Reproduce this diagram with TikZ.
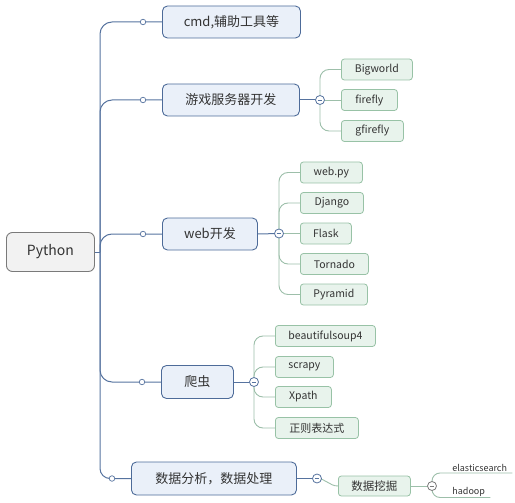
\documentclass[tikz,border=0pt]{standalone}
\usepackage{fontspec}
\setmainfont{Noto Sans CJK SC}
\definecolor{trunk}{HTML}{56739F}
\definecolor{blfill}{HTML}{EAF0F9}
\definecolor{blborder}{HTML}{4D6B99}
\definecolor{grline}{HTML}{9DBFAA}
\definecolor{grborder}{HTML}{98C2A6}
\definecolor{grfill}{HTML}{E8F3EC}
\definecolor{pyfill}{HTML}{F2F2F2}
\definecolor{pyborder}{HTML}{7A7A7A}
\definecolor{txt}{HTML}{333333}
\tikzset{
  rootbox/.style={draw=pyborder, fill=pyfill, line width=0.9pt, rounded corners=6pt, anchor=west, inner sep=0pt, text=txt, font=\fontsize{14}{16}\selectfont},
  topbox/.style={draw=blborder, fill=blfill, line width=0.9pt, rounded corners=5pt, anchor=west, inner sep=0pt, text=txt, font=\fontsize{13}{15}\selectfont},
  subbox/.style={draw=grborder, fill=grfill, line width=0.8pt, rounded corners=3pt, anchor=west, inner sep=0pt, minimum height=21pt, text=txt, font=\fontsize{10.5}{12}\selectfont},
  leaf/.style={inner xsep=0pt, inner ysep=0.8pt, text=txt, font=\fontsize{9}{11}\selectfont},
  trunkline/.style={draw=trunk, line width=1pt, rounded corners=12pt},
  greenline/.style={draw=grline, line width=0.9pt, rounded corners=9pt},
  dot/.style={circle, draw=trunk, fill=white, line width=0.7pt, minimum size=5.5pt, inner sep=0pt},
  minusdot/.style={circle, draw=#1, fill=white, line width=0.8pt, minimum size=9pt, inner sep=0pt,
    path picture={\draw[#1, line width=0.8pt] ([xshift=-2.3pt]path picture bounding box.center) -- ([xshift=2.3pt]path picture bounding box.center);}},
}
\begin{document}
\begin{tikzpicture}[x=1pt,y=-1pt]
\useasboundingbox (0,0) rectangle (515,503);
% nodes
\node[rootbox, minimum width=88pt, minimum height=39pt] (py) at (6,252) {Python};
\coordinate (hub) at (100,252);

\node[topbox, minimum width=138pt, minimum height=32pt] (n1) at (162,22) {cmd,辅助工具等};
\node[topbox, minimum width=137pt, minimum height=32pt] (n2) at (162,100) {游戏服务器开发};
\node[topbox, minimum width=95pt, minimum height=32pt] (n3) at (162,234) {web开发};
\node[topbox, minimum width=72pt, minimum height=33pt] (n4) at (161,382) {爬虫};
\node[topbox, minimum width=165pt, minimum height=33pt] (n5) at (131,478.5) {数据分析，数据处理};

\node[subbox, minimum width=71pt] (bw) at (341,69.5) {Bigworld};
\node[subbox, minimum width=56pt] (ff) at (341,100) {firefly};
\node[subbox, minimum width=62pt] (gf) at (341,131) {gfirefly};

\node[subbox, minimum width=62pt] (wp) at (300,172.5) {web.py};
\node[subbox, minimum width=63pt] (dj) at (300,203) {Django};
\node[subbox, minimum width=51pt] (fl) at (300,233.5) {Flask};
\node[subbox, minimum width=68pt] (tn) at (300,264) {Tornado};
\node[subbox, minimum width=67pt] (pr) at (300,294.5) {Pyramid};

\node[subbox, minimum width=100pt] (bs) at (275,336) {beautifulsoup4};
\node[subbox, minimum width=58pt] (sc) at (275,367) {scrapy};
\node[subbox, minimum width=56pt] (xp) at (275,397) {Xpath};
\node[subbox, minimum width=83pt, font=\fontsize{11}{13}\selectfont] (re) at (275,428) {正则表达式};

\node[subbox, minimum width=72pt, minimum height=20pt, font=\fontsize{11.5}{13}\selectfont] (dm) at (338,486) {数据挖掘};

\node[leaf, anchor=south west, minimum width=65pt] (es) at (447,473) {elasticsearch};
\node[leaf, anchor=south west, minimum width=43pt] (hd) at (447,497.5) {hadoop};

% connector centres
\coordinate (c2) at (320,100);
\coordinate (c3) at (279,233.5);
\coordinate (c4) at (254,382);
\coordinate (c5) at (317,478.5);
\coordinate (c6) at (432,486);

% trunk
\draw[trunkline] (py.east) -- (hub);
\draw[trunkline] (hub) |- (n1.west);
\draw[trunkline] (hub) |- (n2.west);
\draw[trunkline] (hub) |- (n3.west);
\draw[trunkline] (hub) |- (n4.west);
\draw[trunkline, rounded corners=10pt] (hub) |- (n5.west);

% level 2 connectors
\draw[trunkline] (n2.east) -- (c2);
\draw[greenline] (c2) |- (bw.west);
\draw[greenline] (c2) -- (ff.west);
\draw[greenline] (c2) |- (gf.west);

\draw[trunkline] (n3.east) -- (c3);
\draw[greenline] (c3) |- (wp.west);
\draw[greenline] (c3) |- (dj.west);
\draw[greenline] (c3) -- (fl.west);
\draw[greenline] (c3) |- (tn.west);
\draw[greenline] (c3) |- (pr.west);

\draw[trunkline] (n4.east) -- (c4);
\draw[greenline] (c4) |- (bs.west);
\draw[greenline] (c4) |- (sc.west);
\draw[greenline] (c4) |- (xp.west);
\draw[greenline] (c4) |- (re.west);

\draw[trunkline] (n5.east) -- (c5);
\draw[greenline] (c5) to[out=0, in=180] (dm.west);

\draw[greenline] (dm.east) -- (c6);
\draw[greenline, rounded corners=8pt] (c6) |- (es.south west) -- (es.south east);
\draw[greenline, rounded corners=8pt] (c6) |- (hd.south west) -- (hd.south east);

% small dots and minus circles
\node[dot] (d1) at (143,22) {};
\node[dot] (d2) at (143,100) {};
\node[dot] (d3) at (143,234) {};
\node[dot] (d4) at (142,382) {};
\node[dot] (d5) at (112,478.5) {};

\node[minusdot=trunk] (m2) at (c2) {};
\node[minusdot=trunk] (m3) at (c3) {};
\node[minusdot=trunk] (m4) at (c4) {};
\node[minusdot=trunk] (m5) at (c5) {};
\node[minusdot=pyborder] (m6) at (c6) {};
\end{tikzpicture}
\end{document}
